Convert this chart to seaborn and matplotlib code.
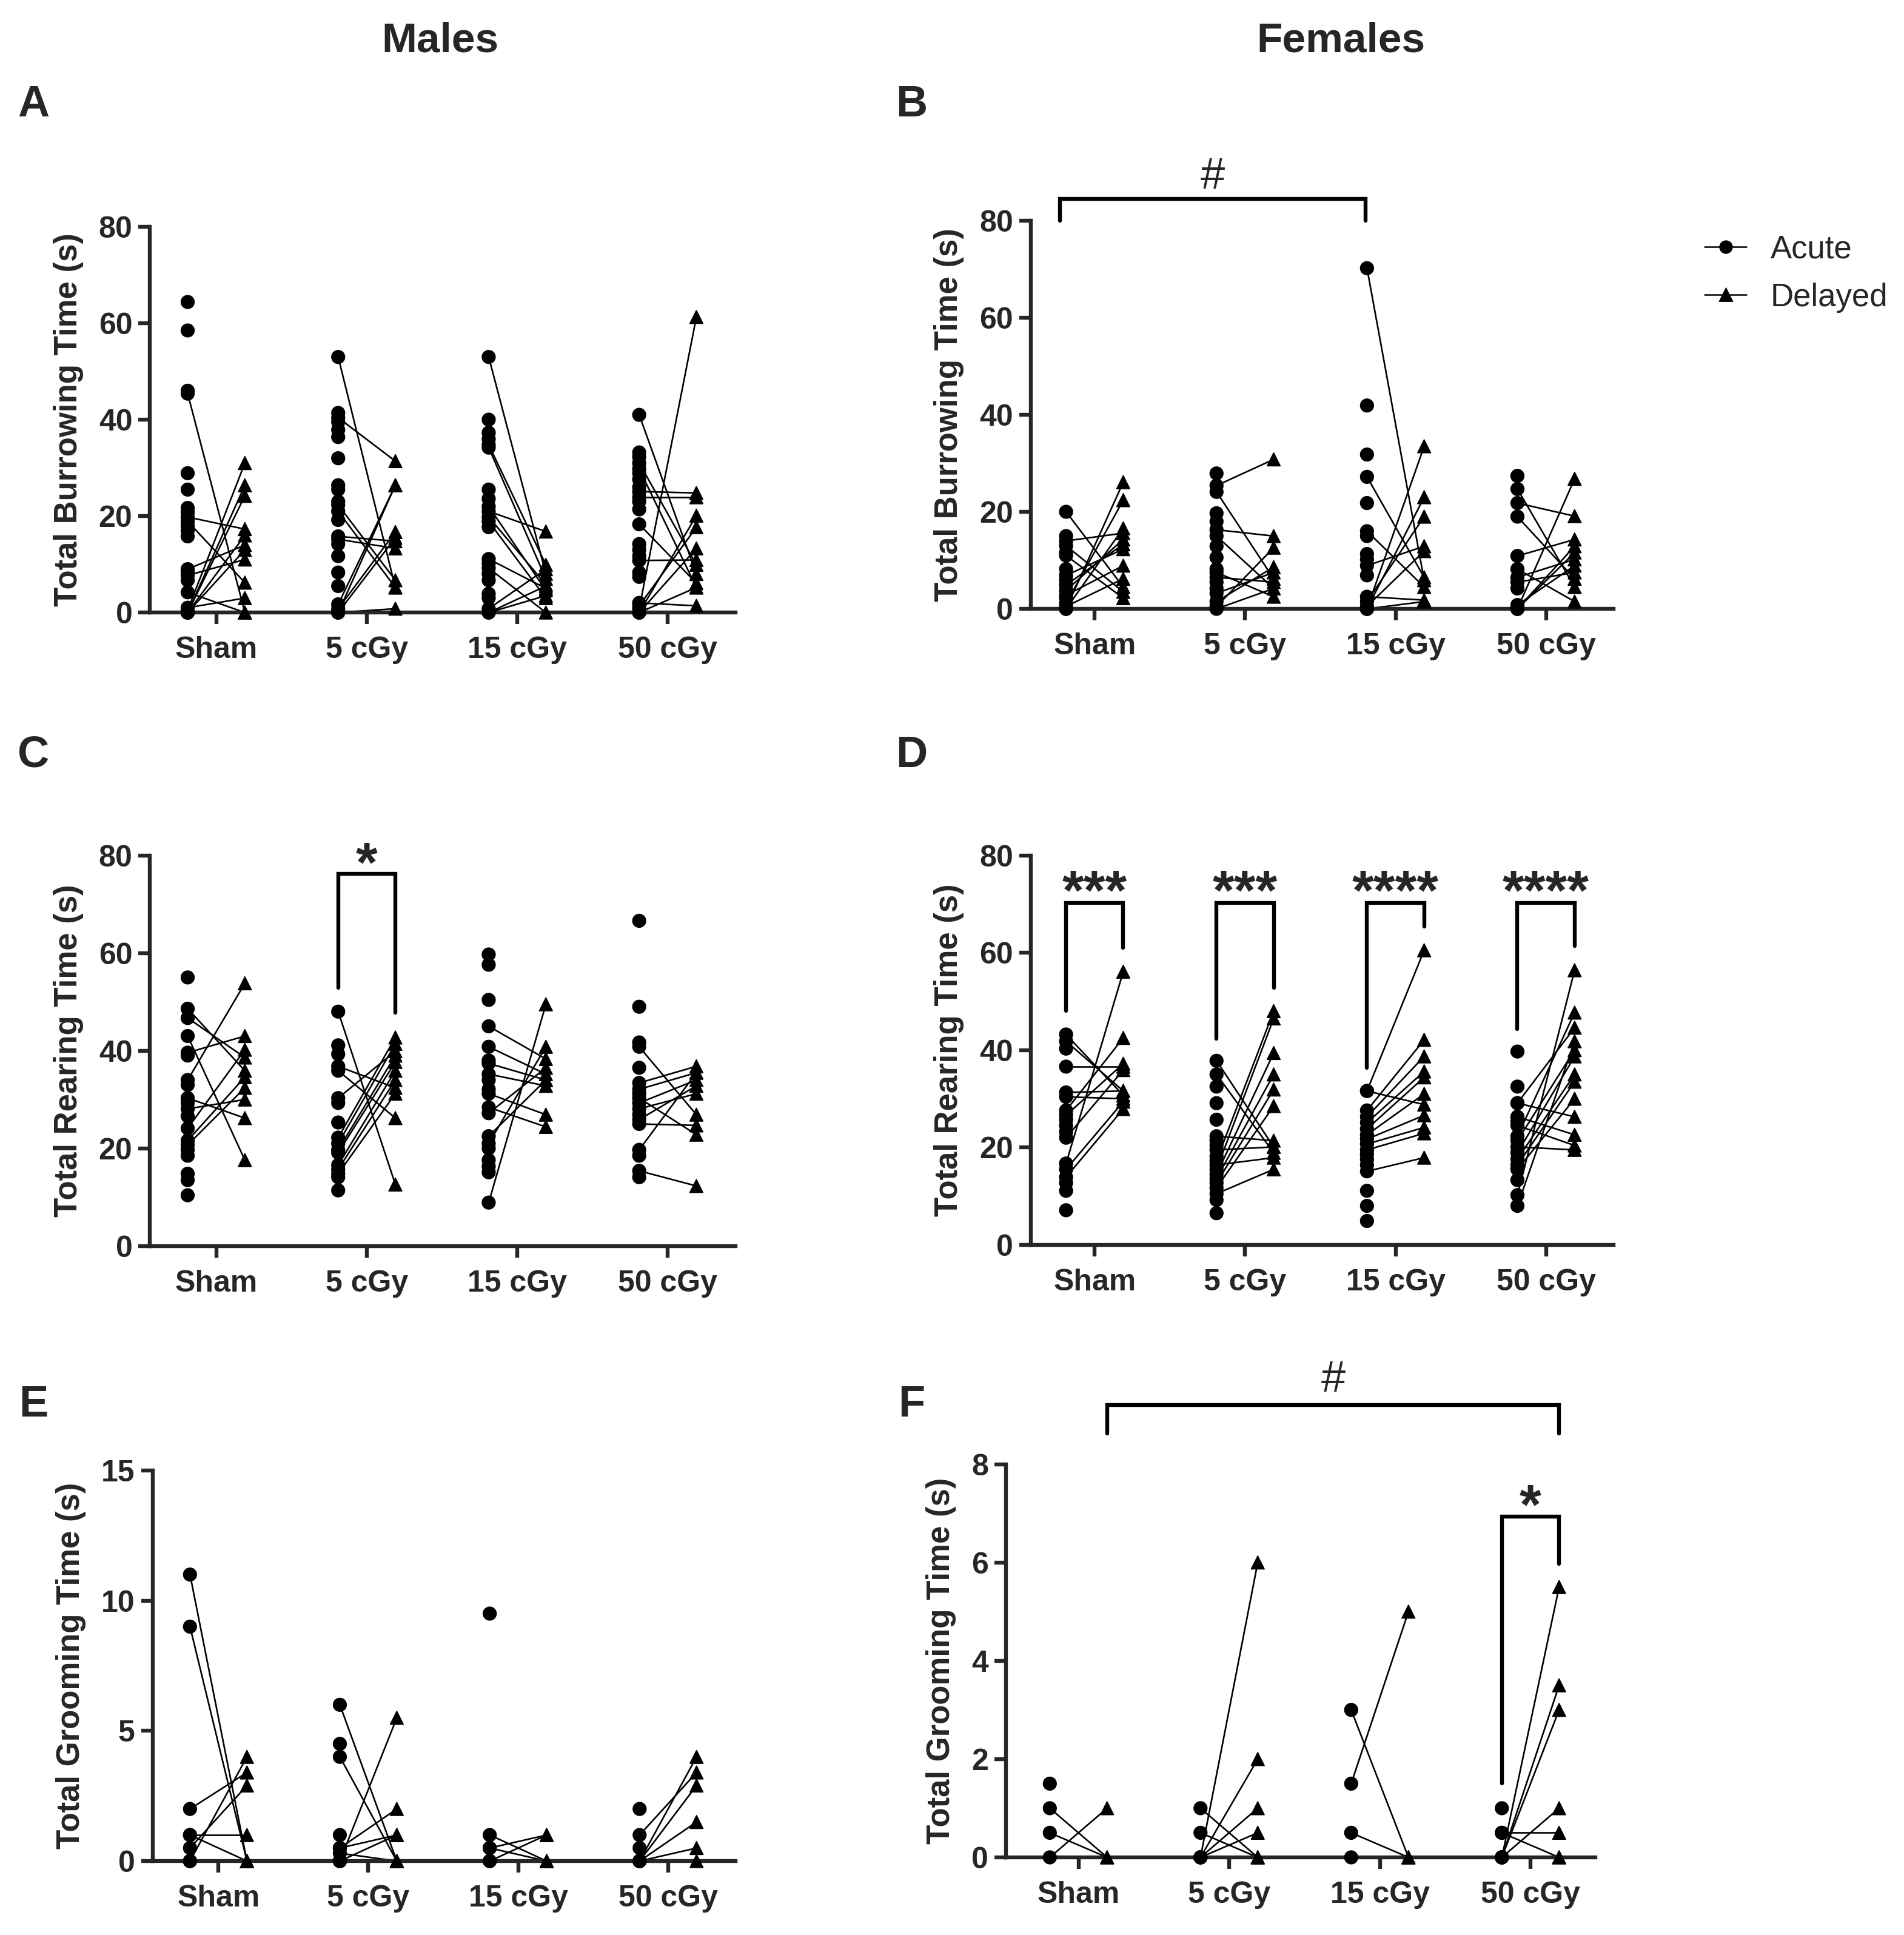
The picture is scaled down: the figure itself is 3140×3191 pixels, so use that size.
import numpy as np
import pandas as pd
import seaborn as sns
import matplotlib.pyplot as plt
from matplotlib.lines import Line2D

nan = np.nan
groups = ["Sham", "5 cGy", "15 cGy", "50 cGy"]

# --- Males, burrowing (A) ---
m_burrow_acute = [
    [64.4, 58.5, 46, 45.4, 28.9, 25.5, 21.7, 20.8, 19.8, 18.9, 18, 17, 15.8, 9, 8.6, 7.7, 6.7, 4.2, 1, 0.5, 0, 0, 0, 0],
    [53, 41.4, 40.4, 39.5, 37.9, 36.4, 32, 26.4, 25.5, 23, 22.3, 21, 19.2, 15.8, 15.2, 14.2, 11.7, 8.3, 5.5, 1.7, 0.8, 0, 0, 0],
    [53, 40, 37.3, 36, 34.8, 34.2, 25.5, 23.6, 22, 21, 19.8, 18.9, 17.7, 11.1, 10.2, 9.2, 8, 6.7, 3.9, 3, 0.8, 0, 0],
    [41, 33.2, 32.3, 31, 29.8, 28.9, 27.6, 26, 25.1, 23.9, 23, 21.4, 18.3, 14.2, 13, 11.7, 10.8, 8.3, 7.4, 2, 1.4, 0.8, 0, 0, 0],
]
m_burrow_delayed = [
    [nan, nan, nan, 0, nan, nan, nan, nan, 17.3, 6.2, nan, nan, nan, 14, nan, 11, nan, 0, 3, 31, 26.4, 24.2, 16, 13],
    [5.2, nan, 31.4, nan, nan, nan, nan, nan, nan, nan, 6.7, 5.2, nan, 14.8, 13.3, nan, nan, nan, nan, 26.4, 16.7, 26.4, 15.5, 0.8],
    [8, nan, nan, nan, 9.9, 7, nan, nan, 4.6, 16.8, 5.8, 3, nan, 5, nan, 0, nan, nan, nan, nan, 9, 5.5, 3.5],
    [8, nan, nan, 9.9, 5.2, nan, nan, nan, 24.8, 23.9, nan, nan, 6.1, nan, nan, nan, 10.9, nan, nan, 1.4, 17.7, 61.3, 20.1, 13.3, 5.2],
]

# --- Females, burrowing (B) ---
f_burrow_acute = [
    [20, 15, 14, 13, 11.6, 11, 8.2, 6.9, 5.9, 4.9, 3.8, 2.8, 2.2, 1.1, 0.5, 0, 0],
    [27.9, 25.4, 24.1, 19.7, 18, 16.3, 15, 12.9, 10.6, 8.2, 7.5, 6.5, 5.5, 4.2, 3.2, 1.5, 0.5, 0],
    [70.2, 41.9, 31.8, 27.2, 21.8, 16, 15, 11.3, 10.2, 8.9, 6.9, 2.5, 1.5, 0.5, 0, 0, 0],
    [27.4, 24.7, 21.8, 19, 10.9, 8.2, 6.5, 5.5, 4.2, 0.8, 0, 0, 0],
]
f_burrow_delayed = [
    [4.5, nan, 15.6, 3.5, nan, 2.2, nan, 12.3, nan, 13.3, 14.3, 8.9, nan, 22.4, 6.2, 26.1, 16.6],
    [nan, 30.8, 6.2, nan, nan, 15, 4.2, nan, nan, nan, 2.5, 5.5, nan, nan, 7.5, 8.6, 12.6, 4.2],
    [5.9, nan, nan, 6.5, nan, 4.5, nan, nan, nan, 12.9, nan, 1.8, 19, 11.9, 33.5, 23, 1.5],
    [nan, 4.5, 19.1, 6.2, 14.3, 1.5, 10.2, 7.5, nan, 8.9, 26.8, 12.9, 11.6],
]

# --- Males, rearing (C) ---
m_rear_acute = [
    [55, 48.6, 46.7, 43, 39.6, 39, 34, 33, 30.3, 29.3, 28.1, 26.6, 24.1, 21.6, 20.7, 19.7, 18.5, 14.8, 13.5, 10.4],
    [48, 41.1, 39.3, 36.8, 35.9, 30.3, 29.3, 25.3, 22.2, 21, 19.7, 19.1, 16.6, 15.7, 14.8, 14.1, 11.4],
    [59.7, 57.6, 50.4, 45, 40.8, 38, 37.4, 35.2, 34, 32.1, 31.2, 28.4, 27.2, 22.5, 21, 20, 17.6, 16.3, 15.1, 8.9],
    [66.6, 49, 41.7, 40.8, 36.5, 33.4, 32.1, 31.2, 30.3, 29.3, 28.1, 26.9, 25.9, 25, 19.7, 18.5, 15.4, 14.1],
]
m_rear_delayed = [
    [nan, 35.9, 38.6, 17.6, 43, nan, 53.8, nan, 26.2, nan, 30, nan, 40.2, 34.6, 32.4, nan, nan, nan, nan, nan],
    [12.6, nan, nan, 32.4, 26.2, 39.9, nan, nan, 42.7, 41.4, 39, 37.7, 35.9, 34, 31.2, nan, nan],
    [nan, nan, nan, 38.3, 35.2, nan, 34, 32.8, nan, nan, 26.9, 24.4, 36.5, 34, 40.8, nan, nan, nan, nan, 49.5],
    [nan, nan, nan, 26.9, nan, 36.8, 35.5, nan, 22.8, 34, 31.2, nan, 32.8, 24.7, 35.5, nan, 12.3, nan],
]

# --- Females, rearing (D) ---
f_rear_acute = [
    [43.2, 41.8, 40.3, 36.6, 31.3, 30.4, 27.6, 26.6, 25.7, 24.5, 23.2, 22, 16.7, 15.5, 13.9, 12.7, 11.1, 7.1],
    [37.8, 35, 32.5, 29.1, 25.7, 22.3, 21.4, 20.4, 19.5, 18.2, 17.3, 16.4, 15.5, 14.5, 13.6, 12.7, 11.7, 10.5, 9.2, 6.5],
    [31.6, 31.6, 27.6, 26.3, 25.1, 23.8, 22.6, 21.7, 20.7, 19.5, 18.6, 17.6, 16.4, 15.1, 11.1, 8, 4.9],
    [39.7, 32.5, 29.1, 29.1, 26.3, 25.4, 24.5, 22.3, 21.4, 20.1, 18.9, 17.6, 16.4, 15.5, 13.3, 10.2, 8],
]
f_rear_delayed = [
    [30.7, 31.6, nan, 36.6, 31.6, 30, 42.5, 37.2, nan, nan, nan, 35.9, 56.1, 29.4, 27.9, nan, nan, nan],
    [20.1, 18.9, nan, nan, nan, 21.4, nan, nan, 20.1, nan, 48, 17.9, 46.5, 39.4, 35, 31.9, 28.5, 15.5, nan, nan],
    [60.5, 28.8, 42.1, 38.7, 35.6, 34.4, 31, 26.6, 24.1, 22.9, nan, nan, nan, 17.9, nan, nan, nan],
    [nan, nan, 44.6, 26.3, 22.6, nan, 20.4, 47.7, 40, 19.5, 38.7, 35, 33.5, 30, nan, 56.4, 41.8],
]

# --- Males, grooming (E) ---
m_groom_acute = [
    [11, 9, 2, 1, 1, 0.5, 0, 0, 0],
    [6, 4.5, 4, 1, 0.5, 0.5, 0.3, 0, 0, 0],
    [9.5, 1, 0.5, 0.5, 0, 0],
    [2, 1, 0.5, 0, 0, 0, 0, 0],
]
m_groom_delayed = [
    [0, 0, 3.4, 1, 0, 2.9, 4, 0, nan],
    [0, nan, 0, nan, 2, 1, 0, 5.5, 1, 0],
    [nan, 0, 0, 1, 1, 0],
    [nan, 3.4, nan, 4, 2.9, 1.5, 0.5, 0],
]

# --- Females, grooming (F) ---
f_groom_acute = [
    [1.5, 1, 0.5, 0],
    [1, 0.5, 0, 0, 0, 0, 0],
    [3, 1.5, 0.5, 0],
    [1, 0.5, 0.5, 0, 0, 0, 0, 0],
]
f_groom_delayed = [
    [nan, 0, 0, 1],
    [0, 0, 6, 2, 1, 0.5, 0],
    [0, 5, 0, 0],
    [nan, 0.5, 0, 5.5, 3.5, 3, 1, 0],
]

OFF = 0.19


def make_long(acute, delayed):
    rows = []
    sid = 0
    for gi, g in enumerate(groups):
        for a, d in zip(acute[gi], delayed[gi]):
            rows.append(dict(subject=sid, group=g, time="Acute", x=gi - OFF, value=a))
            if not np.isnan(d):
                rows.append(dict(subject=sid, group=g, time="Delayed", x=gi + OFF, value=d))
            sid += 1
    return pd.DataFrame(rows)


def draw_panel(ax, acute, delayed, ylabel, ymax, yticks, xlim=(-0.44, 3.45)):
    df = make_long(acute, delayed)
    sns.lineplot(data=df, x="x", y="value", units="subject", estimator=None,
                 color="black", lw=0.95, sort=False, ax=ax, legend=False)
    sns.scatterplot(data=df, x="x", y="value", style="time",
                    markers={"Acute": "o", "Delayed": "^"}, color="black",
                    edgecolor="black", s=60, ax=ax, legend=False, clip_on=False,
                    zorder=3)
    ax.set_xlim(*xlim)
    ax.set_ylim(0, ymax)
    ax.set_yticks(yticks)
    ax.set_xticks(range(4))
    ax.set_xticklabels(groups)
    ax.set_xlabel("")
    ax.set_ylabel(ylabel, fontsize=19, fontweight="bold", labelpad=9)
    ax.tick_params(labelsize=18, width=2.3, length=7, direction="out")
    ax.tick_params(axis="x", pad=7)
    for lab in ax.get_xticklabels() + ax.get_yticklabels():
        lab.set_fontweight("bold")
    sns.despine(ax=ax)
    for sp in ("left", "bottom"):
        ax.spines[sp].set_linewidth(2.3)


def bracket(ax, x0, x1, ytop, yl, yr, text, ycenter, fs=33, weight="bold", rise=0.58):
    ax.plot([x0, x0, x1, x1], [yl, ytop, ytop, yr], color="black", lw=2.3,
            clip_on=False, solid_joinstyle="miter")
    # put the glyph so its ink centre sits at ycenter
    ax.annotate(text, xy=((x0 + x1) / 2, ycenter), xytext=(0, -rise * fs),
                textcoords="offset points", ha="center", va="baseline",
                fontsize=fs, fontweight=weight, annotation_clip=False)


sns.set_style("ticks")
plt.rcParams["font.family"] = ["Liberation Sans", "DejaVu Sans"]

fig = plt.figure(figsize=(15.7, 15.955), dpi=200)
W, H = 1548, 1570


def add_axes(l, r, b, t):
    return fig.add_axes([l / W, 1 - b / H, (r - l) / W, (b - t) / H])


axA = add_axes(122, 598, 497, 184)
axB = add_axes(838, 1312, 494, 179)
axC = add_axes(122, 598, 1011, 694)
axD = add_axes(838, 1312, 1010, 694)
axE = add_axes(124, 598, 1510, 1193)
axF = add_axes(818, 1297, 1507, 1188)

ticks80 = [0, 20, 40, 60, 80]
draw_panel(axA, m_burrow_acute, m_burrow_delayed, "Total Burrowing Time (s)", 80, ticks80)
draw_panel(axB, f_burrow_acute, f_burrow_delayed, "Total Burrowing Time (s)", 80, ticks80, xlim=(-0.425, 3.45))
draw_panel(axC, m_rear_acute, m_rear_delayed, "Total Rearing Time (s)", 80, ticks80)
draw_panel(axD, f_rear_acute, f_rear_delayed, "Total Rearing Time (s)", 80, ticks80, xlim=(-0.425, 3.45))
draw_panel(axE, m_groom_acute, m_groom_delayed, "Total Grooming Time (s)", 15, [0, 5, 10, 15])
draw_panel(axF, f_groom_acute, f_groom_delayed, "Total Grooming Time (s)", 8, [0, 2, 4, 6, 8], xlim=(-0.48, 3.43))

# significance annotations
bracket(axB, -0.23, 1.8, 84.5, 80, 80, "#", 89.8, fs=26, weight="normal", rise=0.36)
bracket(axC, 1 - OFF, 1 + OFF, 76.2, 52.9, 47.8, "*", 81.3)
for gi, (yl, yr, t) in enumerate([(48, 61, "***"), (42.3, 52.8, "***"),
                                   (36.3, 65.4, "****"), (44.3, 61.4, "****")]):
    bracket(axD, gi - OFF, gi + OFF, 70.2, yl, yr, t, 75.6)
bracket(axF, OFF, 3 + OFF, 9.2, 8.62, 8.62, "#", 9.8, fs=26, weight="normal", rise=0.36)
bracket(axF, 3 - OFF, 3 + OFF, 6.93, 1.5, 5.97, "*", 7.45)

# panel letters and headers
for lab, (x, y) in zip("ABCDEF", [(27, 85), (741, 85), (27, 613), (741, 613), (27, 1140), (741, 1140)]):
    fig.text(x / W, 1 - y / H, lab, fontsize=26, fontweight="bold", ha="center", va="center")
fig.text(358 / W, 1 - 33 / H, "Males", fontsize=25, fontweight="bold", ha="center", va="center")
fig.text(1090 / W, 1 - 33 / H, "Females", fontsize=25, fontweight="bold", ha="center", va="center")

handles = [Line2D([], [], color="black", lw=0.9, marker="o", markersize=7),
           Line2D([], [], color="black", lw=0.9, marker="^", markersize=7)]
fig.legend(handles, ["Acute", "Delayed"], loc="center left",
           bbox_to_anchor=(1386 / W, 1 - 222 / H), frameon=False, fontsize=19,
           handlelength=1.3, handletextpad=0.75, labelspacing=0.55, borderpad=0,
           borderaxespad=0)

fig.savefig("out.png", dpi=200)
